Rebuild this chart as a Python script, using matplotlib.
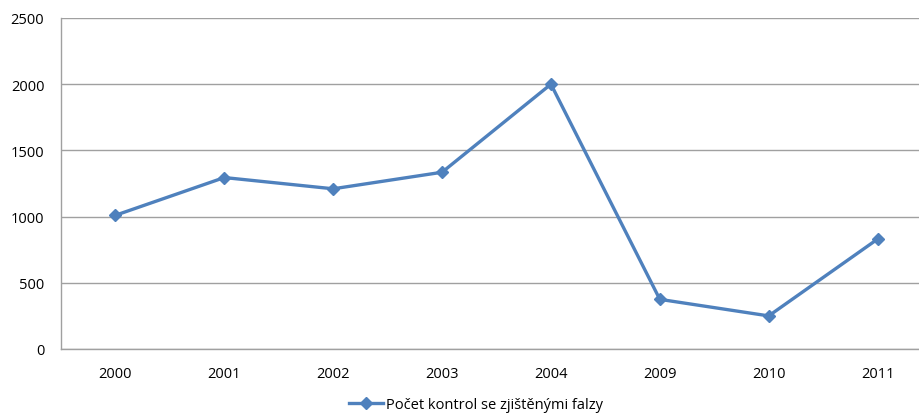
import matplotlib.pyplot as plt
import numpy as np

years = ["2000", "2001", "2002", "2003", "2004", "2009", "2010", "2011"]
counts = [1010, 1295, 1210, 1335, 2000, 375, 250, 830]
series_label = "Počet kontrol se zjištěnými falzy"

plt.rcParams["font.family"] = ["Open Sans", "DejaVu Sans"]

fig = plt.figure(figsize=(9.19, 4.14), dpi=100)
# plot area runs slightly past the right edge of the figure
ax = fig.add_axes([61 / 919, 1 - 350 / 414, 871 / 919, 331 / 414])

x = np.arange(len(years))
line, = ax.plot(x, counts, color="#4F81BD", linewidth=2.4, marker="D",
                markersize=6.5, label=series_label, clip_on=False)

ax.set_xlim(-0.5, len(years) - 0.5)
ax.set_ylim(0, 2500)
ax.set_yticks(np.arange(0, 2501, 500))
ax.set_xticks(x, labels=years)
ax.yaxis.grid(True, color="#A0A0A0", linewidth=1.0)
ax.set_axisbelow(True)

for side in ("top", "right"):
    ax.spines[side].set_visible(False)
for side in ("left", "bottom"):
    ax.spines[side].set_color("#A0A0A0")
    ax.spines[side].set_linewidth(1.0)

ax.tick_params(axis="both", length=0, labelsize=10.5, colors="#000000")
ax.tick_params(axis="y", pad=12)
ax.tick_params(axis="x", pad=12)

fig.legend(handles=[line], loc="center", bbox_to_anchor=(476 / 919, 1 - 406 / 414),
           frameon=False, fontsize=10.5, handlelength=2.3, handletextpad=0.2)

fig.savefig("out.png", dpi=100)
